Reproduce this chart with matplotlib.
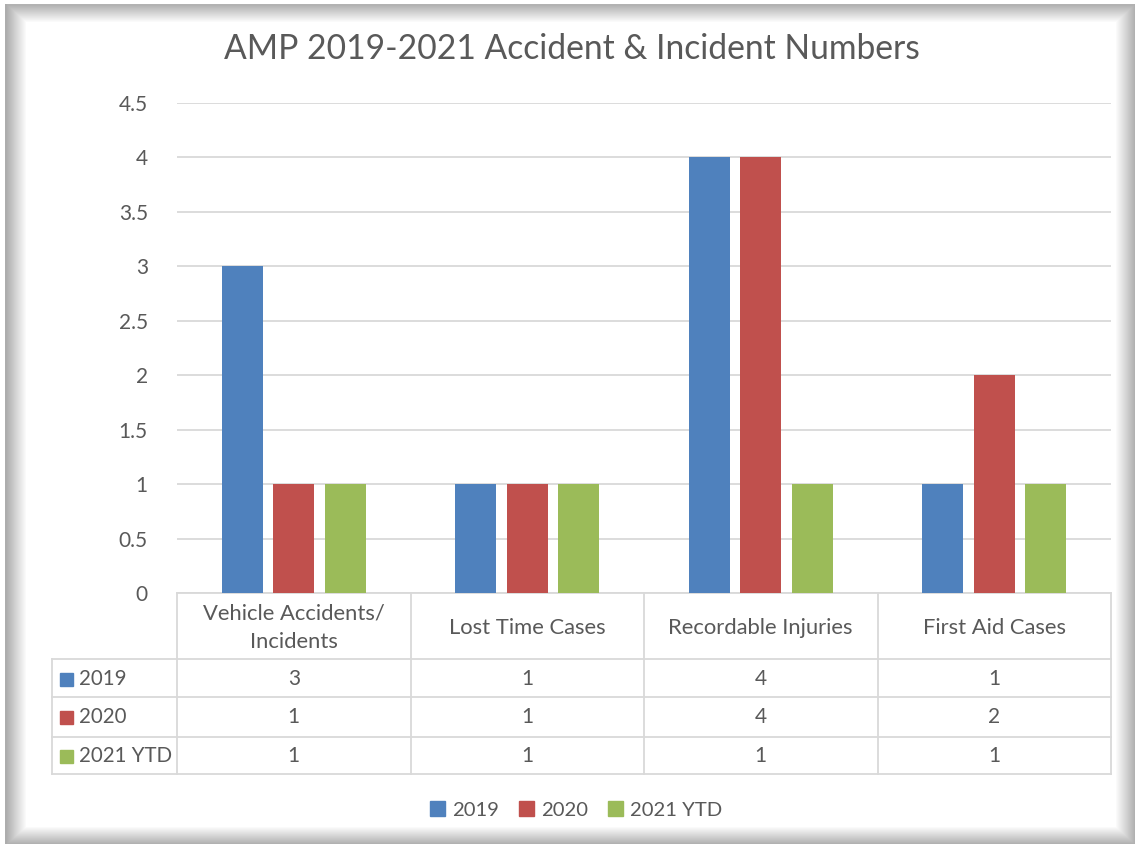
import numpy as np
import matplotlib
matplotlib.use("Agg")
import matplotlib.pyplot as plt
import matplotlib.transforms as mtransforms
from matplotlib.patches import Rectangle

# ---------------- data ----------------
categories = ["Vehicle Accidents/\nIncidents", "Lost Time Cases", "Recordable Injuries", "First Aid Cases"]
series_names = ["2019", "2020", "2021 YTD"]
values_2019 = [3, 1, 4, 1]
values_2020 = [1, 1, 4, 2]
values_2021 = [1, 1, 1, 1]
colors = ["#4f81bd", "#c0504d", "#9bbb59"]
title = "AMP 2019-2021 Accident & Incident Numbers"
yticks = [0, 0.5, 1, 1.5, 2, 2.5, 3, 3.5, 4, 4.5]

series = [values_2019, values_2020, values_2021]

plt.rcParams["font.family"] = ["Lato", "DejaVu Sans"]
TXT = "#595959"
GRID = "#d9d9d9"

W, H = 1135, 844
fig = plt.figure(figsize=(W / 100, H / 100), dpi=100)

# ---------------- frame / shadow background ----------------
bg = fig.add_axes([0, 0, 1, 1], zorder=-10)
bg.set_axis_off()
xx = np.arange(W)[None, :].astype(float)
yy = np.arange(H)[:, None].astype(float)
left = np.where((xx >= 5) & (xx <= 26), 0.32 * np.clip(1 - (xx - 6) / 20, 0, 1), 0)
top = np.where((yy >= 4) & (yy <= 22), 0.30 * np.clip(1 - (yy - 5) / 17, 0, 1), 0)
right = np.where(xx >= 1115, 0.32 * np.clip((xx - 1115) / 20, 0, 1), 0)
bottom = np.where(yy >= 826, 0.32 * np.clip((yy - 826) / 18, 0, 1), 0)
inside = ((xx >= 5) & (yy >= 4)).astype(float)
shade = np.maximum.reduce([left * inside, top * inside, right * inside, bottom * inside])
img = 1 - shade
img[:4, :] = 1
img[:, :5] = 1
bg.imshow(np.dstack([img, img, img]), extent=[0, W, H, 0], aspect="auto", interpolation="bilinear")
bg.set_xlim(0, W)
bg.set_ylim(H, 0)

# ---------------- main axes ----------------
px_left, px_right, px_top, px_bottom = 177, 1111, 103, 593
ax = fig.add_axes([px_left / W, 1 - px_bottom / H, (px_right - px_left) / W, (px_bottom - px_top) / H])
ax.patch.set_alpha(0)

n = len(categories)
x = np.arange(n)
bw = 0.1756
step = 0.2215
for k, (vals, col, name) in enumerate(zip(series, colors, series_names)):
    ax.bar(x + (k - 1) * step, vals, width=bw, color=col, label=name, zorder=3)

ax.set_xlim(-0.5, n - 0.5)
ax.set_ylim(0, 4.5)
ax.set_yticks(yticks)
ax.set_yticklabels([f"{t:g}" for t in yticks])
ax.tick_params(axis="y", length=0, pad=21, labelsize=15, labelcolor=TXT)
ax.set_xticks([])
for s in ["top", "right", "left"]:
    ax.spines[s].set_visible(False)
ax.spines["bottom"].set_color(GRID)
ax.spines["bottom"].set_linewidth(1.3)
ax.yaxis.grid(True, color=GRID, linewidth=1.3, zorder=0)
ax.set_axisbelow(True)

# ---------------- data table ----------------
axh = px_bottom - px_top
def ay(py):
    return (px_bottom - py) / axh

row_lines = [659, 697, 737, 774]
label_left = (52 - px_left) / (px_right - px_left)
trans_xa = ax.transAxes
blend = mtransforms.blended_transform_factory(ax.transData, ax.transAxes)

line_kw = dict(color=GRID, linewidth=1.3, clip_on=False)
for py in row_lines:
    ax.plot([label_left, 1], [ay(py), ay(py)], transform=trans_xa, **line_kw)
for b in np.arange(n + 1) - 0.5:
    ax.plot([b, b], [0, ay(774)], transform=blend, **line_kw)
ax.plot([label_left, label_left], [ay(659), ay(774)], transform=trans_xa, **line_kw)

for i, c in enumerate(categories):
    ax.text(i, ay(628), c, transform=blend, ha="center", va="center", fontsize=15.8,
            color=TXT, linespacing=1.5)

row_centers = [679, 717, 756]
for k, (vals, col, name) in enumerate(zip(series, colors, series_names)):
    yc = ay(row_centers[k])
    for i, v in enumerate(vals):
        ax.text(i, yc, f"{v:g}", transform=blend, ha="center", va="center", fontsize=15, color=TXT)
    sq_x0 = (60 - px_left) / (px_right - px_left)
    sq_w = 13 / (px_right - px_left)
    sq_h = 13 / axh
    ax.add_patch(Rectangle((sq_x0, yc - sq_h / 2), sq_w, sq_h, transform=trans_xa,
                           color=col, clip_on=False))
    ax.text((79 - px_left) / (px_right - px_left), yc, name, transform=trans_xa,
            ha="left", va="center", fontsize=14.8, color=TXT)

# ---------------- title ----------------
fig.text(572 / W, 1 - 49 / H, title, ha="center", va="center", fontsize=24.2, color=TXT)

# ---------------- legend ----------------
handles = [Rectangle((0, 0), 1, 1, color=c) for c in colors]
fig.legend(handles, series_names, loc="center", bbox_to_anchor=(576 / W, 1 - 810 / H),
           ncol=3, frameon=False, fontsize=14.6, handlelength=0.72, handleheight=0.72,
           handletextpad=0.35, columnspacing=1.0, labelcolor=TXT)

fig.savefig("out.png", dpi=100)
